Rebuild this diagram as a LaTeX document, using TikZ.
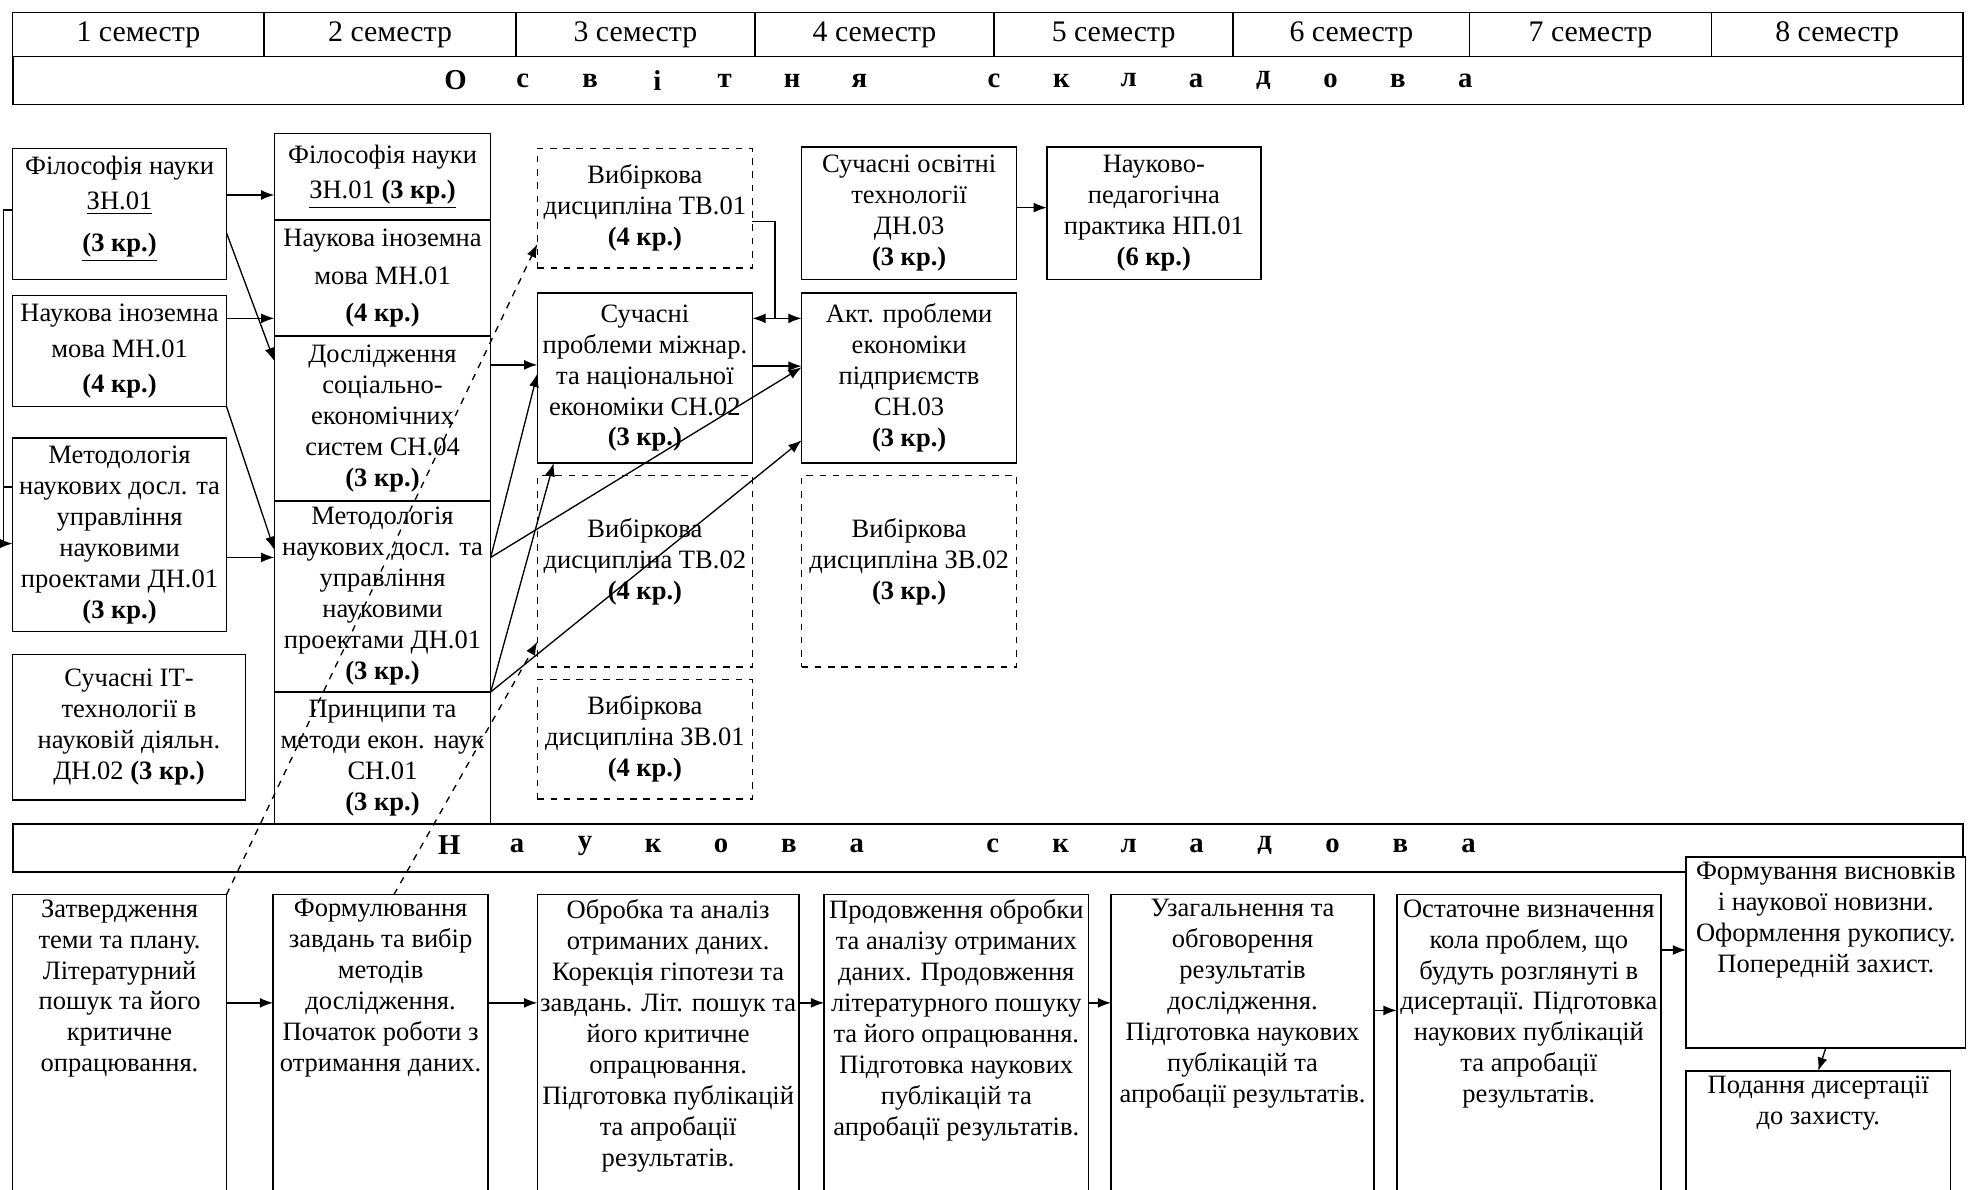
\documentclass[tikz,border=0pt]{standalone}
\usepackage{fontspec}
\setmainfont{Liberation Serif}
\usetikzlibrary{arrows.meta,positioning}
\newcommand{\boxfont}{\fontsize{12}{14}\selectfont}
\newcommand{\semfont}{\fontsize{13.5}{16}\selectfont}
\newcommand{\bandfont}{\fontsize{13}{15}\selectfont\bfseries}
\tikzset{
  box/.style={draw, line width=0.7pt, fill=white, align=center, inner sep=1pt, outer sep=0pt, font=\boxfont},
  elective/.style={box, dashed},
  stage/.style={draw, line width=0.7pt, fill=white, outer sep=0pt},
  stagetext/.style={anchor=north, align=center, inner sep=2pt, font=\boxfont},
  semcell/.style={draw, line width=0.7pt, minimum height=0.7cm, outer sep=0pt, font=\semfont},
  band/.style={draw, line width=0.7pt, fill=white, minimum width=31cm, minimum height=0.76cm},
  bandletter/.style={font=\bandfont, inner sep=0pt},
  flow/.style={-{Latex[length=6pt,width=4.5pt]}, line width=0.6pt},
  dashflow/.style={flow, dashed},
  both/.style={{Latex[length=6pt,width=4.5pt]}-{Latex[length=6pt,width=4.5pt]}, line width=0.6pt},
}

\begin{document}
\begin{tikzpicture}[x=0.02cm, y=-0.02cm]
  \useasboundingbox (0,0) rectangle (1568,945);
  \clip (0,0) rectangle (1568,945);

  % semesters
  \foreach \n/\cx/\w in {1/110/200, 2/310/200, 3/505/190, 4/695/190,
                         5/885/190, 6/1074/188, 7/1264/192, 8/1460/200}
    \node[semcell, minimum width=\w*0.02cm] (sem\n) at (\cx,27.5) {\n\ семестр};

  % osvitnia skladova
  \node[band] (osv) at (785,64) {};
  \foreach \l [count=\i from 0] in {О,с,в,і,т,н,я,{},с,к,л,а,д,о,в,а}
    \node[bandletter] (osv\i) at ({362+53.5*\i},64) {\l};

  % 1 semester
  \node[box, minimum width=3.4cm, minimum height=2.08cm] (f1) at (95,170)
    {Філософія науки\\[2pt] \underline{ЗН.01}\\[5pt] \underline{\textbf{(3 кр.)}}\\[-5pt]};
  \node[box, minimum width=3.4cm, minimum height=1.76cm] (m1) at (95,279)
    {Наукова іноземна\\[2pt] мова МН.01\\[2pt] \textbf{(4 кр.)}};
  \node[box, minimum width=3.4cm, minimum height=3.08cm] (d1) at (95,425)
    {Методологія\\ наукових досл. та\\ управління\\ науковими\\ проектами ДН.01\\ \textbf{(3 кр.)}};
  \node[box, minimum width=3.7cm, minimum height=2.32cm] (it) at (102.5,578)
    {Сучасні ІТ-\\ технології в\\ науковій діяльн.\\ ДН.02 \textbf{(3 кр.)}};

  % 2 semester
  \node[box, minimum width=3.44cm, minimum height=1.38cm] (f2) at (304,140.5)
    {Філософія науки\\[2pt] \underline{ЗН.01 \textbf{(3 кр.)}}};
  \node[box, minimum width=3.44cm, minimum height=1.84cm, below=0pt of f2] (m2)
    {Наукова іноземна\\[3pt] мова МН.01\\[3pt] \textbf{(4 кр.)}};
  \node[box, minimum width=3.44cm, minimum height=2.62cm, below=0pt of m2] (s4)
    {Дослідження\\ соціально-\\ економічних\\ систем СН.04\\ \textbf{(3 кр.)}};
  \node[box, minimum width=3.44cm, minimum height=3.04cm, below=0pt of s4] (d2)
    {Методологія\\ наукових досл. та\\ управління\\ науковими\\ проектами ДН.01\\ \textbf{(3 кр.)}};
  \node[box, minimum width=3.44cm, minimum height=2.1cm, below=0pt of d2] (p2)
    {Принципи та\\ методи екон. наук\\ СН.01\\ \textbf{(3 кр.)}};

  % 3 semester
  \node[elective, minimum width=3.42cm, minimum height=1.9cm] (tv1) at (512.5,165.5)
    {Вибіркова\\ дисципліна ТВ.01\\ \textbf{(4 кр.)}};
  \node[box, minimum width=3.42cm, minimum height=2.7cm] (c2) at (512.5,300.5)
    {Сучасні\\ проблеми міжнар.\\ та національної\\ економіки СН.02\\ \textbf{(3 кр.)}};
  \node[elective, minimum width=3.42cm, minimum height=3.04cm] (tv2) at (512.5,454)
    {Вибіркова\\ дисципліна ТВ.02\\ \textbf{(4 кр.)}\\[-3pt]};
  \node[elective, minimum width=3.42cm, minimum height=1.9cm] (zv1) at (512.5,587.5)
    {Вибіркова\\ дисципліна ЗВ.01\\ \textbf{(4 кр.)}};

  % 4 semester
  \node[box, minimum width=3.42cm, minimum height=2.1cm] (dn3) at (722.5,169.5)
    {Сучасні освітні\\ технології\\ ДН.03\\ \textbf{(3 кр.)}};
  \node[box, minimum width=3.42cm, minimum height=2.7cm] (c3) at (722.5,300.5)
    {Акт. проблеми\\ економіки\\ підприємств\\ СН.03\\ \textbf{(3 кр.)}};
  \node[elective, minimum width=3.42cm, minimum height=3.04cm] (zv2) at (722.5,454)
    {Вибіркова\\ дисципліна ЗВ.02\\ \textbf{(3 кр.)}\\[-3pt]};

  % 5 semester
  \node[box, minimum width=3.4cm, minimum height=2.1cm] (np) at (917,169.5)
    {Науково-\\ педагогічна\\ практика НП.01\\ \textbf{(6 кр.)}};

  % naukova skladova
  \node[band] (nauk) at (785,674) {};
  \foreach \l [count=\i from 0] in {Н,а,у,к,о,в,а,{},с,к,л,а,д,о,в,а}
    \node[bandletter] (nauk\i) at ({357+54*\i},672) {\l};

  % stages of the research
  \node[stage, minimum width=3.4cm, minimum height=4.98cm] (b1) at (95,835.5) {};
  \node[stagetext] (b1t) at (b1.north)
    {Затвердження\\ теми та плану.\\ Літературний\\ пошук та його\\ критичне\\ опрацювання.};
  \node[stage, minimum width=3.42cm, minimum height=4.98cm] (b2) at (302.5,835.5) {};
  \node[stagetext] (b2t) at (b2.north)
    {Формулювання\\ завдань та вибір\\ методів\\ дослідження.\\ Початок роботи з\\ отримання даних.};
  \node[stage, minimum width=4.16cm, minimum height=4.98cm] (b3) at (531,835.5) {};
  \node[stagetext] (b3t) at (b3.north)
    {Обробка та аналіз\\ отриманих даних.\\ Корекція гіпотези та\\ завдань. Літ. пошук та\\ його критичне\\ опрацювання.\\ Підготовка публікацій\\ та апробації\\ результатів.};
  \node[stage, minimum width=4.2cm, minimum height=4.98cm] (b4) at (760,835.5) {};
  \node[stagetext] (b4t) at (b4.north)
    {Продовження обробки\\ та аналізу отриманих\\ даних. Продовження\\ літературного пошуку\\ та його опрацювання.\\ Підготовка наукових\\ публікацій та\\ апробації результатів.};
  \node[stage, minimum width=4.18cm, minimum height=4.98cm] (b5) at (987.5,835.5) {};
  \node[stagetext] (b5t) at (b5.north)
    {Узагальнення та\\ обговорення\\ результатів\\ дослідження.\\ Підготовка наукових\\ публікацій та\\ апробації результатів.};
  \node[stage, minimum width=4.2cm, minimum height=4.98cm] (b6) at (1215,835.5) {};
  \node[stagetext] (b6t) at (b6.north)
    {Остаточне визначення\\ кола проблем, що\\ будуть розглянуті в\\ дисертації. Підготовка\\ наукових публікацій\\ та апробації\\ результатів.};
  \node[stage, minimum width=4.44cm, minimum height=3.04cm] (b7) at (1451,757) {};
  \node[stagetext] (b7t) at (b7.north)
    {Формування висновків\\ і наукової новизни.\\ Оформлення рукопису.\\ Попередній захист.};
  \node[stage, minimum width=4.2cm, minimum height=2.18cm] (b8) at (1445,905.5) {};
  \node[stagetext] (b8t) at (b8.north)
    {Подання дисертації\\ до захисту.};

  % links, 1 -> 2 semester
  \coordinate (loopc) at (3,432);
  \draw[flow] (f1.west |- 0,167) -| (loopc) -- (d1.west |- loopc);
  \draw[line width=0.6pt] (loopc |- 0,387) -- (d1.west |- 0,387);
  \draw[flow] (f1.east |- 0,155) -- (f2.west |- 0,155);
  \draw[flow] (f1.east |- 0,185) -- (s4.west |- 0,287);
  \draw[flow] (m1.east |- 0,253) -- (m2.west |- 0,253);
  \draw[flow] (m1.south east) -- (d2.west |- 0,437);
  \draw[flow] (d1.east |- 0,443) -- (d2.west |- 0,443);

  % links, 2 -> 3, 4 semester
  \draw[flow] (s4.east |- 0,290) -- (c2.west |- 0,290);
  \draw[flow] (d2.east |- 0,443) -- (c2.west |- 0,297);
  \draw[flow] (d2.east |- 0,443) -- (c3.west |- 0,292);
  \draw[flow] (d2.south east) -- (c2.south west -| 440,0);
  \draw[flow] (d2.south east) -- (c3.west |- 0,350);

  % links, 3 -> 4 -> 5 semester
  \coordinate (tvj) at (616,253);
  \draw[line width=0.6pt] (tv1.east |- 0,176) -| (tvj);
  \draw[both] (c2.east |- tvj) -- (c3.west |- tvj);
  \draw[flow] (c2.east |- 0,291) -- (c3.west |- 0,291);
  \draw[flow] (dn3.east |- 0,165) -- (np.west |- 0,165);

  % dashed links to electives
  \draw[dashflow] (b1.north east) -- (tv1.west |- 0,194);
  \draw[dashflow] (b2.north -| 313,0) -- (tv2.west |- 0,510);

  % stage flow
  \coordinate (lvl) at (0,797);
  \draw[flow] (b1.east |- lvl) -- (b2.west |- lvl);
  \draw[flow] (b2.east |- lvl) -- (b3.west |- lvl);
  \draw[flow] (b3.east |- lvl) -- (b4.west |- lvl);
  \draw[flow] (b4.east |- lvl) -- (b5.west |- lvl);
  \draw[flow] (b5.east |- 0,803) -- (b6.west |- 0,803);
  \draw[flow] (b6.east |- 0,755) -- (b7.west |- 0,755);
  \draw[flow] (b7.south) -- (b8.north);
\end{tikzpicture}
\end{document}
